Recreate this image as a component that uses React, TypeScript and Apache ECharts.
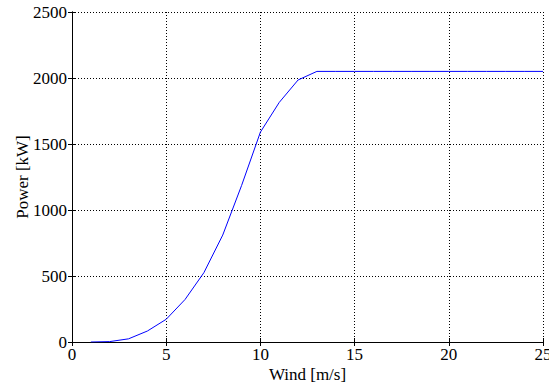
import React, { useEffect, useRef } from "react";
import * as echarts from "echarts";

const windSpeed = [1, 2, 3, 4, 5, 6, 7, 8, 9, 10, 11, 12, 13, 14, 15, 16, 17, 18, 19, 20, 21, 22, 23, 24, 25];
const powerKW = [0, 3, 24, 83, 172, 322, 525, 810, 1185, 1590, 1815, 1985, 2050, 2050, 2050, 2050, 2050, 2050, 2050, 2050, 2050, 2050, 2050, 2050, 2050];
const xTicks = [0, 5, 10, 15, 20, 25];
const yTicks = [0, 500, 1000, 1500, 2000, 2500];

const FONT = "Liberation Serif";

export default function App() {
  const ref = useRef<HTMLDivElement>(null);
  useEffect(() => {
    if (!ref.current) return;
    const chart = echarts.init(ref.current, undefined, { renderer: "svg" });
    const data = windSpeed.map((w, i) => [w, powerKW[i]]);
    const axisCommon = {
      axisLine: { show: true, lineStyle: { color: "#000", width: 1 } },
      axisTick: { show: true, inside: true, length: 4, lineStyle: { color: "#000", width: 1 } },
    };
    chart.setOption({
      animation: false,
      backgroundColor: "#fff",
      grid: { left: 72, right: 6, top: 12, bottom: 43, outerBoundsMode: "none", containLabel: false },
      xAxis: [
        {
          type: "value",
          min: xTicks[0],
          max: xTicks[xTicks.length - 1],
          interval: 5,
          position: "bottom",
          ...axisCommon,
          axisLabel: { color: "#000", fontFamily: FONT, fontSize: 17, margin: 4, formatter: (v: number) => String(v) },
          splitLine: { show: true, lineStyle: { color: "#000", width: 1, type: [1, 2] } },
          name: "Wind [m/s]",
          nameLocation: "middle",
          nameGap: 32,
          nameMoveOverlap: false,
          nameTextStyle: { color: "#000", fontFamily: FONT, fontSize: 17, verticalAlign: "middle" },
        },
        {
          type: "value",
          min: xTicks[0],
          max: xTicks[xTicks.length - 1],
          interval: 5,
          position: "top",
          ...axisCommon,
          axisLabel: { show: false },
          splitLine: { show: false },
        },
      ],
      yAxis: [
        {
          type: "value",
          min: yTicks[0],
          max: yTicks[yTicks.length - 1],
          interval: 500,
          position: "left",
          ...axisCommon,
          axisLabel: { color: "#000", fontFamily: FONT, fontSize: 17, margin: 5, formatter: (v: number) => String(v) },
          splitLine: { show: true, lineStyle: { color: "#000", width: 1, type: [1, 2] } },
          name: "Power [kW]",
          nameLocation: "middle",
          nameGap: 50,
          nameRotate: 90,
          nameMoveOverlap: false,
          nameTextStyle: { color: "#000", fontFamily: FONT, fontSize: 17, verticalAlign: "middle" },
        },
        {
          type: "value",
          min: yTicks[0],
          max: yTicks[yTicks.length - 1],
          interval: 500,
          position: "right",
          ...axisCommon,
          axisLabel: { show: false },
          splitLine: { show: false },
        },
      ],
      series: [
        {
          type: "line",
          data,
          showSymbol: false,
          symbol: "none",
          lineStyle: { color: "#0000ff", width: 1 },
          xAxisIndex: 0,
          yAxisIndex: 0,
        },
      ],
    });
    return () => chart.dispose();
  }, []);
  return <div ref={ref} style={{ width: 549, height: 385, position: "absolute", left: 0, top: 0 }} />;
}
